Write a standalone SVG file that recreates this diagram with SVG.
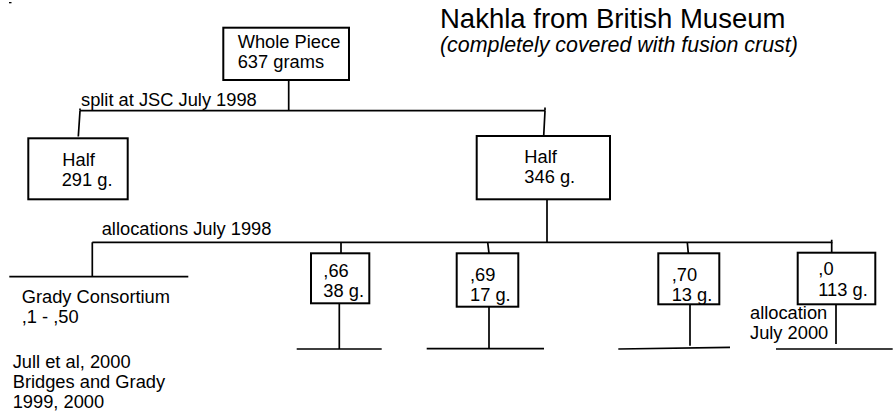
<svg xmlns="http://www.w3.org/2000/svg" width="893" height="415" viewBox="0 0 893 415">
<style>
text{font-family:"Liberation Sans",Arial,sans-serif;font-size:18.3px;fill:#000}
.box{fill:#fff;stroke:#000;stroke-width:2}
.ln{stroke:#000;stroke-width:1.7;fill:none}
.title{font-size:27.5px}
.sub{font-size:21.4px;font-style:italic}
</style>
<rect x="9" y="2" width="2.5" height="1.3" fill="#000"/>
<g id="title">
<text class="title" x="440" y="27.7">Nakhla from British Museum</text>
<text class="sub" x="440" y="51.7">(completely covered with fusion crust)</text>
</g>
<g id="connectors">
<path class="ln" d="M288.7,80 V110.7 M80,110.7 H545 M545,110.7 V107.5 M80,110.7 V108.5 M80,111 L78.3,136.5 M545,111 L543.7,136"/>
<path class="ln" d="M547,199.3 V242.3 M92.3,242.3 H831.7 V239.8 M92.3,242.3 V276.7 M9.3,276.7 H188.3"/>
<path class="ln" d="M341,242.3 V253.3 M487.7,242.3 L489,253.3 M687.3,242.3 L688.3,253.3 M831.7,242.3 V252.7"/>
<path class="ln" d="M339.3,303.3 V349 M296.7,349 H381.7 M489,306.7 V348.7 M426.7,348.7 H544 M690,304.3 V345.7 M618.3,349 L730,347.3 M836,304.3 V344 M776,349 H892.7"/>
</g>
<g id="label-split"><text x="81" y="106">split at JSC July 1998</text></g>
<g id="label-alloc"><text x="101.7" y="235">allocations July 1998</text></g>
<g id="whole">
<rect class="box" x="223.3" y="27.7" width="125.7" height="52.3"/>
<text x="237.7" y="48">Whole Piece</text>
<text x="237.7" y="68">637 grams</text>
</g>
<g id="half291">
<rect class="box" x="28.3" y="138.3" width="99.4" height="61"/>
<text x="62.3" y="165.7">Half</text>
<text x="61.7" y="185.7">291 g.</text>
</g>
<g id="half346">
<rect class="box" x="476.7" y="136" width="133.3" height="63.3"/>
<text x="524.3" y="162.7">Half</text>
<text x="524.3" y="183.3">346 g.</text>
</g>
<g id="grady">
<text x="21.7" y="303.3">Grady Consortium</text>
<text x="21.7" y="323.3">,1 - ,50</text>
<text x="12.7" y="367.7">Jull et al, 2000</text>
<text x="12.7" y="387.7">Bridges and Grady</text>
<text x="12.7" y="407.7">1999, 2000</text>
</g>
<g id="n66">
<rect class="box" x="311" y="253.3" width="58.3" height="50"/>
<text x="323.3" y="277.3">,66</text>
<text x="323.3" y="296.7">38 g.</text>
</g>
<g id="n69">
<rect class="box" x="456.7" y="253.3" width="61.6" height="53.4"/>
<text x="470" y="280.7">,69</text>
<text x="470" y="300.7">17 g.</text>
</g>
<g id="n70">
<rect class="box" x="658.3" y="253.3" width="61" height="51"/>
<text x="671.7" y="280.7">,70</text>
<text x="671.7" y="300.7">13 g.</text>
</g>
<g id="n0">
<rect class="box" x="797.7" y="252.7" width="77.6" height="51.6"/>
<text x="818.3" y="275">,0</text>
<text x="818.3" y="295.7">113 g.</text>
<text x="750" y="319">allocation</text>
<text x="750" y="339.3">July 2000</text>
</g>
</svg>
